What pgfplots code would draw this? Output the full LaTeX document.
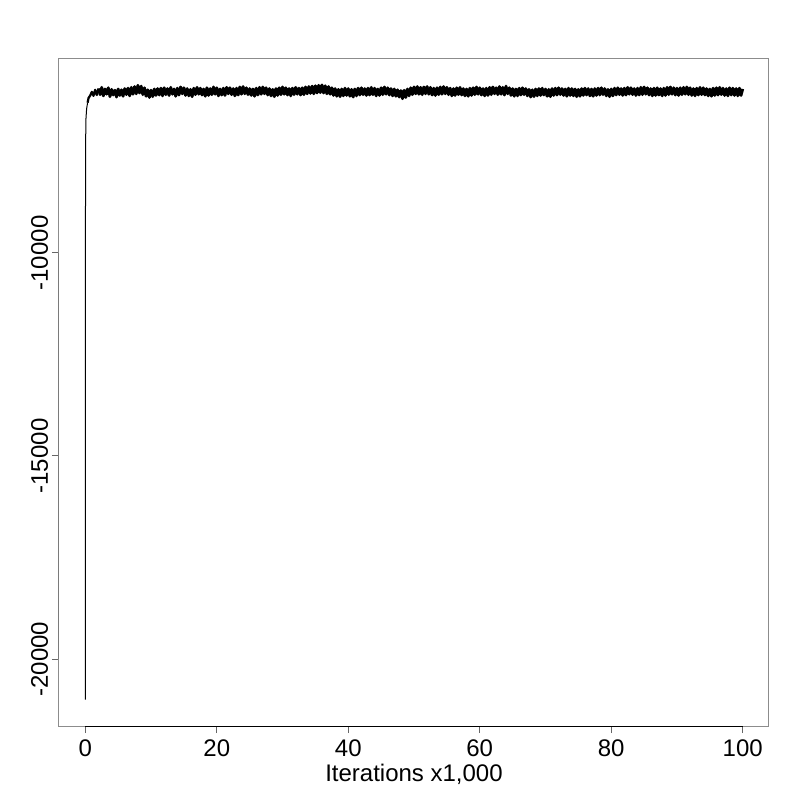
\documentclass[border=0pt]{standalone}
\usepackage{pgfplots}
\pgfplotsset{compat=1.18}
\usepackage{fontspec}
\setmainfont{Liberation Sans}
\begin{document}
\begin{tikzpicture}
\path[use as bounding box] (-29.5pt,-37pt) rectangle (370.5pt,363pt);
\begin{axis}[
  at={(0,0)}, anchor=south west,
  scale only axis, width=355pt, height=333.5pt,
  xmin=-4, xmax=104, ymin=-21650, ymax=-5222,
  scaled y ticks=false, scaled x ticks=false,
  axis line style={black!45, line width=0.5pt},
  xtick={0,20,40,60,80,100},
  xticklabels={0,20,40,60,80,100},
  ytick={-20000,-15000,-10000},
  yticklabels={-20000,-15000,-10000},
  xtick pos=bottom, ytick pos=left,
  tick align=outside,
  major tick length=3.5pt,
  tick style={black!60, line width=0.5pt},
  font=\fontsize{12}{14}\selectfont,
  tick label style={font=\fontsize{12}{14}\selectfont, inner sep=0pt},
  xticklabel style={anchor=base, yshift=-11.5pt},
  yticklabel style={rotate=90, anchor=base},
  yticklabel shift=2pt,
  xlabel={Iterations x1,000},
  xlabel style={at={(axis description cs:0.5,0)}, anchor=base, yshift=-27.5pt, inner sep=0pt},
  clip=true,
]
\addplot[black, line width=0.5pt] coordinates {
(0,-21000) (0.02,-9780) (0.05,-7300) (0.1,-6700) (0.2,-6450) (0.35,-6300)
};
\addplot[black, line width=1.1pt, line join=round] coordinates {
(0.35,-6300) (0.5,-6180) (0.75,-6120) (1,-6030) (1.25,-6130) (1.5,-5980) (1.75,-6110) (2,-5950)
};
\addplot[black, line width=1.4pt, line join=round] table[row sep=\\, x expr=2+\coordindex*0.25, y index=0] {
y\\
-5950\\ -6100\\ -5920\\ -6130\\ -5960\\ -6090\\ -5930\\ -6150\\ -5970\\ -6110\\ -5990\\ -6160\\ -5960\\ -6120\\ -5980\\ -6140\\ -5950\\ -6100\\ -5940\\ -6130\\
-5920\\ -6090\\ -5900\\ -6080\\ -5870\\ -6060\\ -5890\\ -6100\\ -5930\\ -6140\\ -5980\\ -6170\\ -5990\\ -6150\\ -5960\\ -6120\\ -5950\\ -6110\\ -5940\\ -6130\\
-5930\\ -6100\\ -5950\\ -6120\\ -5920\\ -6090\\ -5960\\ -6140\\ -5940\\ -6110\\ -5910\\ -6080\\ -5930\\ -6120\\ -5950\\ -6130\\ -5970\\ -6150\\ -5940\\ -6100\\
-5920\\ -6090\\ -5940\\ -6110\\ -5960\\ -6140\\ -5930\\ -6120\\ -5950\\ -6100\\ -5910\\ -6090\\ -5930\\ -6130\\ -5960\\ -6110\\ -5940\\ -6120\\ -5920\\ -6080\\
-5930\\ -6100\\ -5950\\ -6130\\ -5940\\ -6110\\ -5910\\ -6090\\ -5900\\ -6080\\ -5930\\ -6100\\ -5950\\ -6120\\ -5960\\ -6140\\ -5940\\ -6110\\ -5920\\ -6090\\
-5910\\ -6080\\ -5930\\ -6110\\ -5950\\ -6130\\ -5970\\ -6150\\ -5950\\ -6120\\ -5930\\ -6100\\ -5910\\ -6090\\ -5930\\ -6110\\ -5950\\ -6130\\ -5940\\ -6100\\
-5920\\ -6090\\ -5940\\ -6110\\ -5930\\ -6100\\ -5910\\ -6080\\ -5900\\ -6070\\ -5890\\ -6080\\ -5880\\ -6060\\ -5870\\ -6050\\ -5860\\ -6060\\ -5880\\ -6080\\
-5900\\ -6090\\ -5930\\ -6120\\ -5950\\ -6140\\ -5970\\ -6150\\ -5960\\ -6130\\ -5940\\ -6120\\ -5950\\ -6140\\ -5970\\ -6160\\ -5960\\ -6130\\ -5940\\ -6110\\
-5930\\ -6100\\ -5950\\ -6120\\ -5940\\ -6110\\ -5920\\ -6100\\ -5940\\ -6130\\ -5960\\ -6120\\ -5930\\ -6100\\ -5910\\ -6090\\ -5930\\ -6110\\ -5950\\ -6130\\
-5960\\ -6140\\ -5980\\ -6160\\ -6000\\ -6200\\ -5990\\ -6170\\ -5960\\ -6130\\ -5930\\ -6100\\ -5910\\ -6080\\ -5900\\ -6090\\ -5920\\ -6100\\ -5910\\ -6080\\
-5900\\ -6090\\ -5920\\ -6110\\ -5940\\ -6120\\ -5930\\ -6100\\ -5910\\ -6090\\ -5900\\ -6080\\ -5920\\ -6100\\ -5940\\ -6130\\ -5950\\ -6120\\ -5930\\ -6100\\
-5920\\ -6110\\ -5950\\ -6130\\ -5960\\ -6140\\ -5940\\ -6120\\ -5930\\ -6100\\ -5910\\ -6090\\ -5930\\ -6110\\ -5950\\ -6130\\ -5940\\ -6120\\ -5920\\ -6100\\
-5910\\ -6080\\ -5930\\ -6100\\ -5900\\ -6090\\ -5920\\ -6110\\ -5890\\ -6080\\ -5930\\ -6120\\ -5950\\ -6140\\ -5960\\ -6130\\ -5940\\ -6110\\ -5930\\ -6100\\
-5950\\ -6130\\ -5970\\ -6160\\ -5980\\ -6150\\ -5960\\ -6130\\ -5950\\ -6120\\ -5940\\ -6110\\ -5960\\ -6140\\ -5970\\ -6150\\ -5950\\ -6120\\ -5940\\ -6110\\
-5930\\ -6100\\ -5950\\ -6120\\ -5960\\ -6140\\ -5940\\ -6120\\ -5950\\ -6130\\ -5960\\ -6150\\ -5970\\ -6140\\ -5950\\ -6120\\ -5940\\ -6110\\ -5950\\ -6130\\
-5960\\ -6140\\ -5950\\ -6120\\ -5940\\ -6110\\ -5930\\ -6100\\ -5950\\ -6130\\ -5970\\ -6150\\ -5960\\ -6130\\ -5940\\ -6110\\ -5930\\ -6100\\ -5950\\ -6120\\
-5940\\ -6110\\ -5920\\ -6090\\ -5930\\ -6100\\ -5950\\ -6120\\ -5940\\ -6110\\ -5920\\ -6100\\ -5910\\ -6090\\ -5930\\ -6110\\ -5950\\ -6130\\ -5940\\ -6120\\
-5930\\ -6110\\ -5950\\ -6130\\ -5940\\ -6120\\ -5920\\ -6100\\ -5910\\ -6090\\ -5930\\ -6110\\ -5940\\ -6120\\ -5930\\ -6100\\ -5920\\ -6090\\ -5910\\ -6100\\
-5930\\ -6120\\ -5950\\ -6130\\ -5940\\ -6110\\ -5920\\ -6100\\ -5930\\ -6110\\ -5950\\ -6130\\ -5960\\ -6140\\ -5940\\ -6120\\ -5930\\ -6110\\ -5920\\ -6100\\
-5940\\ -6120\\ -5950\\ -6130\\ -5930\\ -6110\\ -5940\\ -6120\\ -5950\\ -6130\\ -5940\\ -6120\\ -5960\\
};
\draw[black, line width=0.5pt] (axis cs:0,-21650) -- (axis cs:100,-21650);
\draw[black, line width=0.5pt] (axis cs:-4,-20000) -- (axis cs:-4,-10000);
\end{axis}
\end{tikzpicture}
\end{document}
